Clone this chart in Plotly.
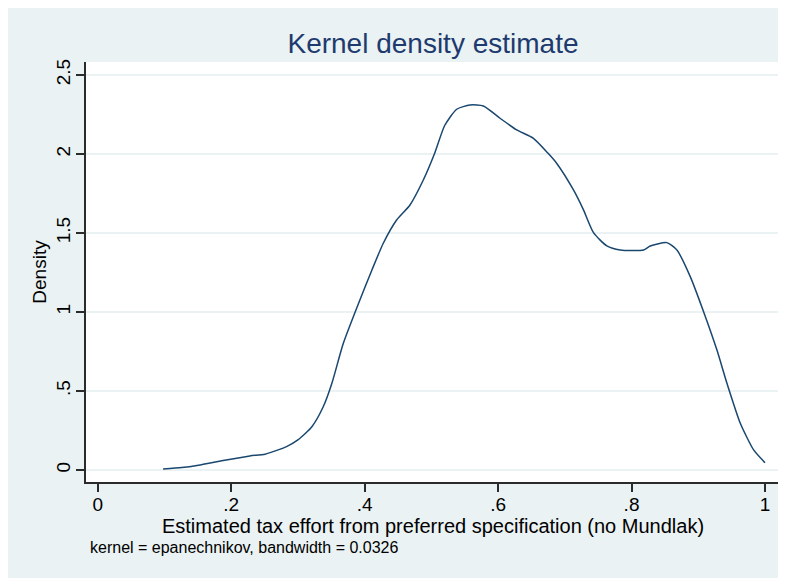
import plotly.graph_objects as go

# kernel density curve
tax_effort = [0.098, 0.126, 0.151, 0.188, 0.228, 0.251, 0.283, 0.300, 0.321, 0.338,
              0.351, 0.368, 0.391, 0.411, 0.428, 0.448, 0.468, 0.488, 0.505, 0.520,
              0.538, 0.558, 0.578, 0.603, 0.628, 0.653, 0.675, 0.688, 0.713, 0.728,
              0.743, 0.763, 0.783, 0.818, 0.828, 0.853, 0.868, 0.888, 0.908, 0.928,
              0.943, 0.963, 0.983, 1.000]
density = [0.006, 0.015, 0.030, 0.060, 0.089, 0.100, 0.148, 0.190, 0.274, 0.400,
           0.549, 0.800, 1.055, 1.266, 1.435, 1.582, 1.677, 1.835, 2.004, 2.180,
           2.283, 2.310, 2.304, 2.226, 2.152, 2.099, 2.004, 1.940, 1.772, 1.646,
           1.502, 1.418, 1.392, 1.392, 1.418, 1.439, 1.392, 1.224, 1.002, 0.759,
           0.549, 0.296, 0.127, 0.046]

x_ticks = [0, 0.2, 0.4, 0.6, 0.8, 1]
x_labels = ["0", ".2", ".4", ".6", ".8", "1"]
y_ticks = [0, 0.5, 1, 1.5, 2, 2.5]
y_labels = ["0", ".5", "1", "1.5", "2", "2.5"]

font = "Liberation Sans, Arial, sans-serif"
region = "#EAF2F3"
axis_col = "#2b2b2b"
text_col = "#000000"

fig = go.Figure()
fig.add_trace(
    go.Scatter(
        x=tax_effort,
        y=density,
        mode="lines",
        line=dict(color="#1a476f", width=1.5, shape="spline", smoothing=0.6),
        showlegend=False,
        hoverinfo="skip",
    )
)

fig.add_annotation(
    x=0.003, y=-0.157, xref="paper", yref="paper",
    text="kernel = epanechnikov, bandwidth = 0.0326",
    showarrow=False, xanchor="left", yanchor="middle",
    font=dict(family=font, size=16, color=text_col),
)

fig.update_layout(
    width=786,
    height=578,
    margin=dict(l=78, r=14, t=54, b=104, autoexpand=False),
    paper_bgcolor=region,
    plot_bgcolor="white",
    font=dict(family=font, color=text_col),
    title=dict(
        text="Kernel density estimate",
        x=0.5, xref="paper", xanchor="center",
        y=1 - 35 / 578, yref="container", yanchor="middle",
        font=dict(family=font, size=28, color="#1e3a6e"),
    ),
    xaxis=dict(
        range=[-0.0175, 1.0225], automargin=False,
        tickvals=x_ticks, ticktext=x_labels,
        ticks="outside", ticklen=8, tickwidth=1.5, tickcolor=axis_col,
        showline=True, linecolor=axis_col, linewidth=1.5,
        showgrid=False, zeroline=False, ticklabelstandoff=-4,
        tickfont=dict(size=19, color=text_col),
        title=dict(text="Estimated tax effort from preferred specification (no Mundlak)",
                   font=dict(size=20, color=text_col), standoff=0),
    ),
    yaxis=dict(
        range=[-0.076, 2.582], automargin=False,
        tickvals=y_ticks, ticktext=y_labels, tickangle=-90,
        ticks="outside", ticklen=8, tickwidth=1.5, tickcolor=axis_col,
        showline=True, linecolor=axis_col, linewidth=1.5,
        showgrid=True, gridcolor=region, gridwidth=1.5, zeroline=False,
        ticklabelstandoff=-1,
        tickfont=dict(size=19, color=text_col),
        title=dict(text="Density", font=dict(size=19, color=text_col), standoff=1),
    ),
)

fig.write_html("out.html")
